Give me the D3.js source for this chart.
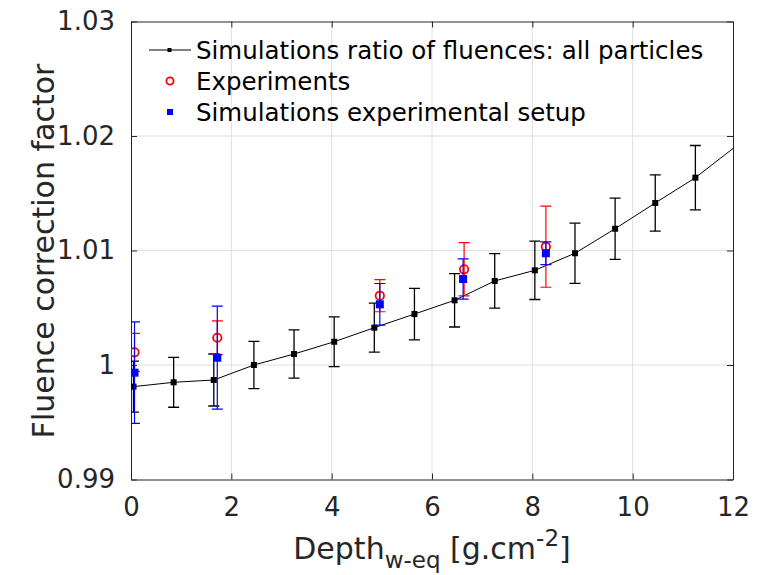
<!DOCTYPE html>
<html>
<head>
<meta charset="utf-8">
<script src="https://cdn.jsdelivr.net/npm/d3@7"></script>
<style>
  body { margin: 0; background: #fff; }
  svg { display: block; font-family: "DejaVu Sans", sans-serif; }
</style>
</head>
<body>
<div id="chart"></div>
<script>
// simulations: ratio of fluences, all particles
var simDepth = [0.05, 0.85, 1.65, 2.45, 3.25, 4.05, 4.85, 5.65, 6.45, 7.25, 8.05, 8.85, 9.65, 10.45, 11.25, 12.05];
var simValue = [0.99811, 0.99849, 0.99869, 1.00000, 1.00096, 1.00203, 1.00326, 1.00445, 1.00565, 1.00734, 1.00827, 1.00976, 1.01190, 1.01415, 1.01636, 1.01908];
var simErr   = [0.00223, 0.00218, 0.00227, 0.00207, 0.00210, 0.00217, 0.00214, 0.00225, 0.00233, 0.00238, 0.00255, 0.00263, 0.00268, 0.00246, 0.00281, 0.00281];

// experiments
var expDepth = [0.07, 1.72, 4.96, 6.64, 8.27];
var expValue = [1.00111, 1.00238, 1.00605, 1.00836, 1.01033];
var expErr   = [0.00166, 0.00148, 0.00140, 0.00233, 0.00354];

// simulations of the experimental setup
var setupDepth = [0.07, 1.72, 4.96, 6.62, 8.27];
var setupValue = [0.99933, 1.00064, 1.00530, 1.00751, 1.00976];
var setupErr   = [0.00443, 0.00450, 0.00182, 0.00175, 0.00100];

var xTicks = [0, 2, 4, 6, 8, 10, 12];
var yTicks = [0.99, 1, 1.01, 1.02, 1.03];
var legendLabels = ["Simulations ratio of fluences: all particles", "Experiments", "Simulations experimental setup"];

var W = 771, H = 575;
var margin = {left: 131, top: 21.5, right: 38, bottom: 95.5};
var innerW = W - margin.left - margin.right;
var innerH = H - margin.top - margin.bottom;
var textColor = "#262626";

var svg = d3.select("#chart").append("svg")
    .attr("width", W)
    .attr("height", H);

var x = d3.scaleLinear().domain([0, 12]).range([0, innerW]);
var y = d3.scaleLinear().domain([0.99, 1.03]).range([innerH, 0]);

var g = svg.append("g").attr("transform", `translate(${margin.left},${margin.top})`);

svg.append("defs").append("clipPath").attr("id", "clip")
  .append("rect").attr("width", innerW).attr("height", innerH);

// grid
g.append("g").selectAll("line").data(xTicks.slice(1, -1)).join("line")
    .attr("x1", d => x(d)).attr("x2", d => x(d))
    .attr("y1", 0).attr("y2", innerH)
    .attr("stroke", "#dfdfdf").attr("stroke-width", 1);
g.append("g").selectAll("line").data(yTicks.slice(1, -1)).join("line")
    .attr("y1", d => y(d)).attr("y2", d => y(d))
    .attr("x1", 0).attr("x2", innerW)
    .attr("stroke", "#dfdfdf").attr("stroke-width", 1);

// axes (ticks inward)
var xAxis = g.append("g").attr("transform", `translate(0,${innerH})`)
    .call(d3.axisBottom(x).tickValues(xTicks).tickSizeInner(-6).tickSizeOuter(0).tickPadding(18).tickFormat(d3.format("d")));
var yAxis = g.append("g")
    .call(d3.axisLeft(y).tickValues(yTicks).tickSizeInner(-6).tickSizeOuter(0).tickPadding(16).tickFormat(d => d === 1 ? "1" : d3.format(".2f")(d)));
g.append("g").call(d3.axisTop(x).tickValues(xTicks).tickSizeInner(-6).tickSizeOuter(0).tickFormat(""));
g.append("g").attr("transform", `translate(${innerW},0)`)
    .call(d3.axisRight(y).tickValues(yTicks).tickSizeInner(-6).tickSizeOuter(0).tickFormat(""));

g.selectAll(".domain").attr("stroke", textColor).attr("stroke-width", 1);
g.selectAll(".tick line").attr("stroke", textColor);
xAxis.selectAll("text").attr("font-size", 26).attr("fill", textColor).attr("font-family", "DejaVu Sans");
yAxis.selectAll("text").attr("font-size", 26).attr("fill", textColor).attr("font-family", "DejaVu Sans");

var plot = g.append("g").attr("clip-path", "url(#clip)");

function errorBars(depth, value, err, color, width, cap) {
  var data = depth.map((d, i) => ({x: d, y: value[i], e: err[i]})).filter(d => d.x <= 12);
  var eg = plot.append("g").attr("stroke", color).attr("stroke-width", width).attr("fill", "none");
  eg.selectAll(".v").data(data).join("line")
      .attr("x1", d => x(d.x)).attr("x2", d => x(d.x))
      .attr("y1", d => y(d.y - d.e)).attr("y2", d => y(d.y + d.e));
  eg.selectAll(".t").data(data).join("line")
      .attr("x1", d => x(d.x) - cap).attr("x2", d => x(d.x) + cap)
      .attr("y1", d => y(d.y + d.e)).attr("y2", d => y(d.y + d.e));
  eg.selectAll(".b").data(data).join("line")
      .attr("x1", d => x(d.x) - cap).attr("x2", d => x(d.x) + cap)
      .attr("y1", d => y(d.y - d.e)).attr("y2", d => y(d.y - d.e));
  return data;
}

// black series
var simData = errorBars(simDepth, simValue, simErr, "#000", 1.3, 5.5);
var line = d3.line().x((d, i) => x(simDepth[i])).y(d => y(d));
plot.append("path")
    .attr("d", line(simValue))
    .attr("fill", "none").attr("stroke", "#000").attr("stroke-width", 1);
plot.append("g").selectAll("rect").data(simData).join("rect")
    .attr("x", d => x(d.x) - 3).attr("y", d => y(d.y) - 3)
    .attr("width", 6).attr("height", 6).attr("fill", "#000");

// experiments
var expData = errorBars(expDepth, expValue, expErr, "#ff0000", 1.2, 5.5);
plot.append("g").selectAll("circle").data(expData).join("circle")
    .attr("cx", d => x(d.x)).attr("cy", d => y(d.y)).attr("r", 4.2)
    .attr("fill", "none").attr("stroke", "#ff0000").attr("stroke-width", 1.8);

// experimental setup simulations
var setupData = errorBars(setupDepth, setupValue, setupErr, "#0000ff", 1.2, 5.5);
plot.append("g").selectAll("rect").data(setupData).join("rect")
    .attr("x", d => x(d.x) - 4).attr("y", d => y(d.y) - 4)
    .attr("width", 8).attr("height", 8).attr("fill", "#0000ff");

// legend
var legend = svg.append("g").attr("font-size", 24.5).attr("fill", "#000");
var rowY = [50, 81, 112];
legend.append("line").attr("x1", 149).attr("x2", 191).attr("y1", rowY[0]).attr("y2", rowY[0])
    .attr("stroke", "#000").attr("stroke-width", 1);
legend.append("rect").attr("x", 167.5).attr("y", rowY[0] - 2).attr("width", 4).attr("height", 4).attr("fill", "#000");
legend.append("circle").attr("cx", 170).attr("cy", rowY[1]).attr("r", 3.6)
    .attr("fill", "none").attr("stroke", "#ff0000").attr("stroke-width", 1.8);
legend.append("rect").attr("x", 167).attr("y", rowY[2] - 3).attr("width", 6).attr("height", 6).attr("fill", "#0000ff");
legend.selectAll("text").data(legendLabels).join("text")
    .attr("x", 196).attr("y", (d, i) => rowY[i]).attr("dy", "0.35em")
    .text(d => d);

// axis labels
svg.append("text")
    .attr("transform", "translate(54,251) rotate(-90)")
    .attr("text-anchor", "middle").attr("font-size", 30).attr("fill", textColor)
    .text("Fluence correction factor");

var xl = svg.append("text")
    .attr("x", 432).attr("y", 559)
    .attr("text-anchor", "middle").attr("font-size", 30).attr("fill", textColor);
xl.append("tspan").text("Depth");
xl.append("tspan").attr("font-size", 23).attr("dy", 9).text("w-eq");
xl.append("tspan").attr("dy", -9).text(" [g.cm");
xl.append("tspan").attr("font-size", 23).attr("dy", -13).text("-2");
xl.append("tspan").attr("dy", 13).text("]");
</script>
</body>
</html>
